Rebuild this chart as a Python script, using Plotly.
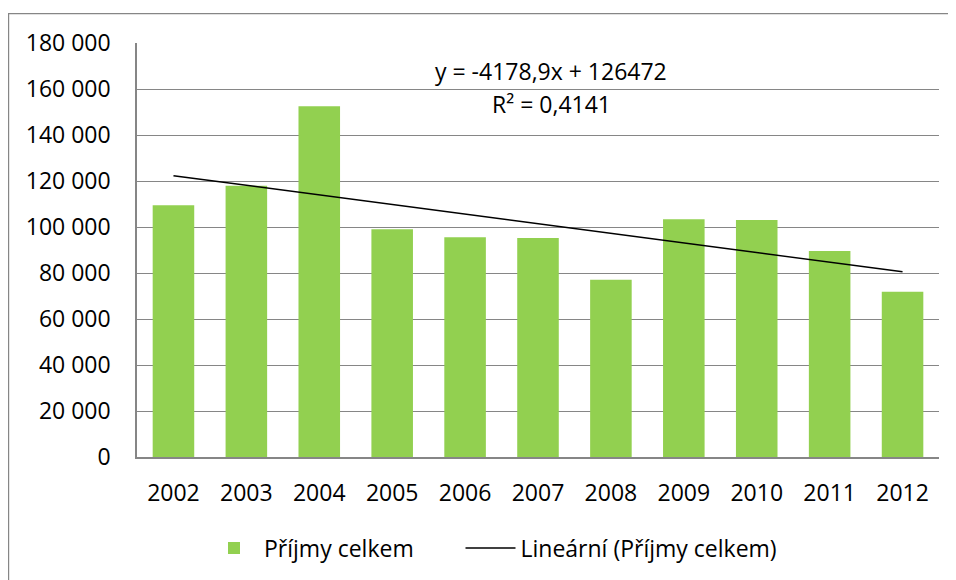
import plotly.graph_objects as go

years = ["2002", "2003", "2004", "2005", "2006", "2007", "2008", "2009", "2010", "2011", "2012"]
prijmy = [109500, 117900, 152500, 99000, 95500, 95200, 77100, 103400, 103000, 89600, 71800]
trend_slope = -4178.9
trend_intercept = 126472
eq_text = "y = -4178,9x + 126472"
r2_text = "R² = 0,4141"
y_ticks = [0, 20000, 40000, 60000, 80000, 100000, 120000, 140000, 160000, 180000]

trend = [trend_intercept + trend_slope * (i + 1) for i in range(len(years))]

FONT = "Open Sans"
FS = 23
OFF = 8  # page body margin
W, H = 948, 572
# target plot area in page pixels: x 137..939, y 43..458
L, R, T, B = 137 - OFF, OFF + W - 939, 43 - OFF, OFF + H - 458
pw = W - L - R
ph = H - T - B

def px_x(px):
    return (px - OFF - L) / pw

def px_y(py):
    return (OFF + H - B - py) / ph

PAD = "\u00a0" * 7  # extra legend spacing after first entry

fig = go.Figure()
fig.add_trace(go.Bar(
    x=years, y=prijmy, name="Příjmy celkem" + PAD,
    marker=dict(color="#92D050", line=dict(width=0)),
))
fig.add_trace(go.Scatter(
    x=years, y=trend, name="Lineární (Příjmy celkem)", mode="lines",
    line=dict(color="black", width=1.5),
))

fig.add_annotation(text=eq_text, x=px_x(551), y=px_y(71), xref="paper", yref="paper",
                   showarrow=False, font=dict(family=FONT, size=FS, color="black"),
                   xanchor="center", yanchor="middle")
fig.add_annotation(text=r2_text, x=px_x(551), y=px_y(104), xref="paper", yref="paper",
                   showarrow=False, font=dict(family=FONT, size=FS, color="black"),
                   xanchor="center", yanchor="middle")

# outer chart-area border (top and left visible)
fig.add_shape(type="line", xref="paper", yref="paper",
              x0=px_x(8), y0=px_y(13.5), x1=px_x(970), y1=px_y(13.5),
              line=dict(color="#868686", width=1.2))
fig.add_shape(type="line", xref="paper", yref="paper",
              x0=px_x(8.6), y0=px_y(13.5), x1=px_x(8.6), y1=px_y(600),
              line=dict(color="#868686", width=1.2))

fig.update_layout(
    width=W, height=H,
    margin=dict(l=L, r=R, t=T, b=B, pad=0),
    paper_bgcolor="white", plot_bgcolor="white",
    separators=", ",
    font=dict(family=FONT, size=FS, color="black"),
    bargap=0.43,
    showlegend=True,
    legend=dict(orientation="h", x=px_x(493), y=px_y(548), xanchor="center", yanchor="middle",
                font=dict(family=FONT, size=FS), itemwidth=50, traceorder="normal",
                bgcolor="rgba(0,0,0,0)"),
    xaxis=dict(type="category", range=[-0.5, 10.5], showgrid=False,
               showline=True, linecolor="#868686", linewidth=1.5,
               ticks="", ticklabelstandoff=15, tickfont=dict(family=FONT, size=FS)),
    yaxis=dict(range=[0, 180000], tickvals=y_ticks, tickformat=",d",
               showgrid=True, gridcolor="#868686", gridwidth=1.3,
               showline=True, linecolor="#868686", linewidth=1.5,
               zeroline=False, ticks="", ticklabelstandoff=20,
               tickfont=dict(family=FONT, size=FS)),
)

fig.write_html("out.html")
